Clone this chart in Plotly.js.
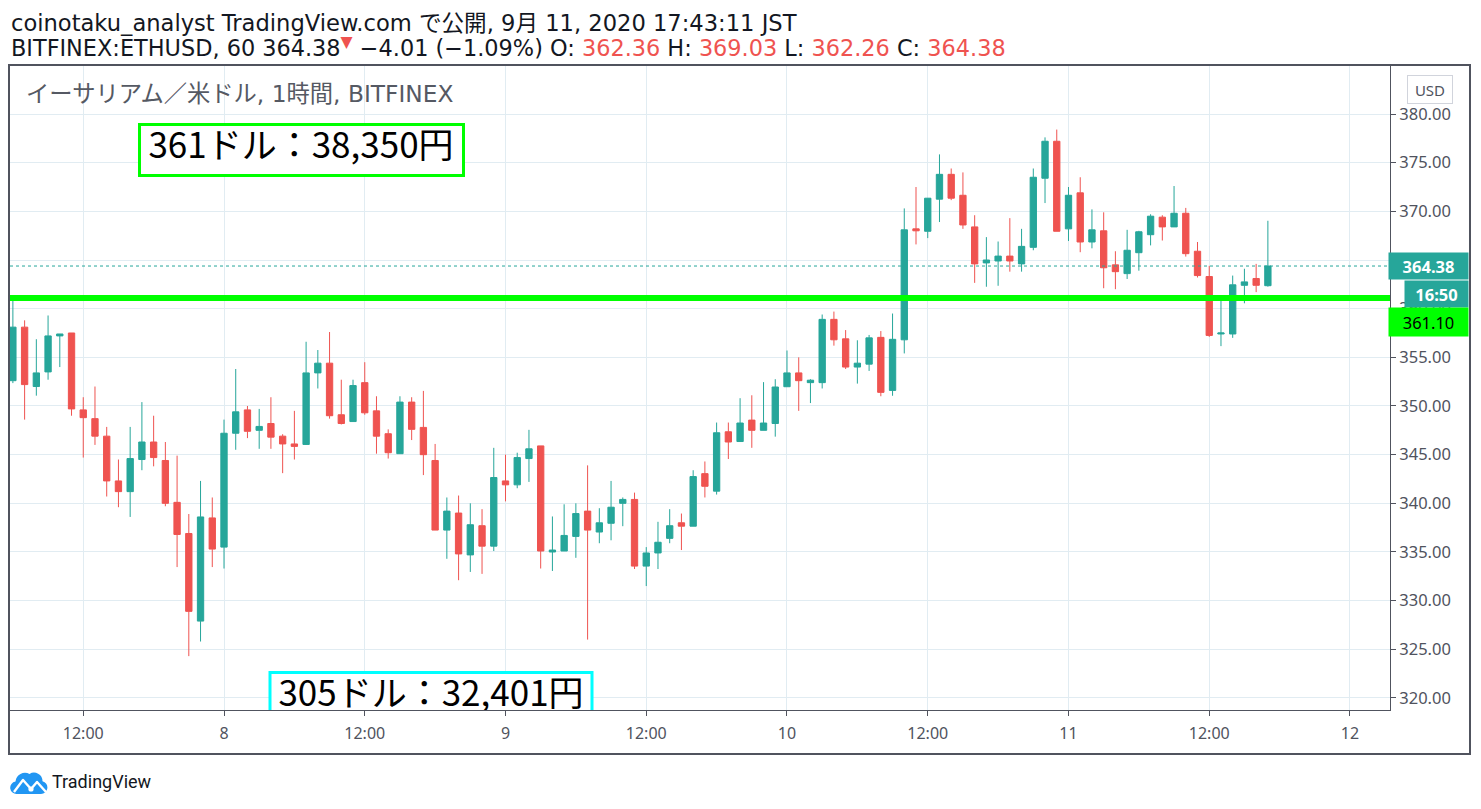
<!DOCTYPE html>
<html>
<head>
<meta charset="utf-8">
<script src="https://cdn.plot.ly/plotly-3.0.1.min.js"></script>
<style>
html,body{margin:0;padding:0;background:#fff;}
#wrap{position:relative;width:1481px;height:809px;overflow:hidden;}
#chart{width:1481px;height:809px;}
#logo{position:absolute;left:10px;top:767px;}
</style>
</head>
<body>
<div id="wrap">
<div id="chart"></div>
<svg id="logo" width="38" height="28" viewBox="0 0 38 28">
  <path d="M7 27 H31 A6.5 6.5 0 0 0 32.5 14.2 A8.5 8.5 0 0 0 19.5 7 A9.5 9.5 0 0 0 5.5 14.5 A6.3 6.3 0 0 0 7 27 Z" fill="#2196f3"/>
  <polyline points="4,25 13,13 21,22 27,15 36,25" fill="none" stroke="#fff" stroke-width="2.4" stroke-linejoin="round"/>
  <circle cx="21" cy="22" r="2.6" fill="#fff"/>
</svg>
</div>
<script>
// ---- data: hourly ETHUSD candles (Bitfinex), first candle 2020-09-07 06:00 JST
const firstCandle = [2020, 8, 7, 6]; // year, month index, day, hour
const openP = [
352.6,358.1,352.0,353.5,357.2,357.5,349.6,348.7,346.9,342.3,
341.2,344.5,346.3,344.4,340.1,336.9,327.9,338.5,335.5,347.2,
349.6,347.5,348.2,346.9,346.1,346.05,353.4,354.4,349.1,348.4,
352.4,349.5,347.15,345.1,350.4,347.8,344.4,337.25,339.0,334.7,
337.7,335.6,342.3,341.9,344.6,345.9,335.0,335.1,336.6,339.2,
337.05,337.95,340.0,340.4,333.55,334.9,336.4,338.0,337.65,343.05,
341.25,347.35,346.35,348.55,347.5,348.2,351.98,353.4,352.4,352.4,
358.9,356.9,354.0,354.3,357.05,351.6,356.8,368.2,367.95,371.25,
373.8,371.65,368.4,364.7,364.9,365.4,364.6,366.3,373.4,377.2,
368.2,371.9,366.85,368.0,364.5,363.6,365.75,367.6,369.4,368.4,
369.8,365.9,363.3,357.4,357.4,362.4,363.1,362.36
];
const highP = [
361.0,358.8,356.86,359.3,357.4,357.5,350.9,352.0,347.85,344.5,
347.85,350.4,349.0,346.3,344.9,338.9,342.3,340.6,348.6,353.8,
350.0,349.7,350.9,347.1,349.5,356.6,355.75,357.6,352.7,352.7,
354.5,351.0,347.6,351.0,350.9,351.55,346.1,340.6,340.8,340.0,
339.4,345.7,345.0,345.2,347.55,345.9,338.65,339.9,340.0,343.9,
339.5,342.3,340.6,341.1,335.5,338.1,339.4,338.95,343.4,344.3,
348.3,348.3,350.8,351.1,352.45,352.75,355.7,355.0,352.75,359.4,
359.7,357.8,356.75,357.3,357.7,359.5,370.3,372.5,371.35,375.85,
374.4,374.0,369.6,367.35,366.9,369.3,368.2,374.4,377.6,378.4,
372.5,373.5,370.2,369.9,365.9,368.1,368.0,369.7,369.6,372.6,
370.35,366.85,364.4,360.8,363.4,364.1,364.6,369.03
];
const lowP = [
352.35,348.6,351.06,352.7,354.0,349.0,344.7,346.0,340.7,339.6,
338.6,343.4,343.8,339.7,333.45,324.3,325.8,333.45,333.3,345.5,
346.7,345.6,345.6,343.1,344.5,346.0,351.8,348.7,348.1,348.4,
349.1,345.1,344.6,345.1,346.5,342.9,337.25,334.3,332.1,332.95,
332.75,335.1,340.2,341.55,342.2,333.3,333.05,335.1,334.4,326.0,
335.9,336.2,337.65,333.25,331.5,333.25,335.9,335.2,337.65,340.6,
340.9,344.55,346.35,345.7,347.5,346.85,351.98,349.5,350.3,351.8,
356.2,353.8,352.3,353.6,351.0,351.05,355.4,366.6,367.25,368.9,
371.15,368.2,362.65,362.25,362.35,363.8,363.8,366.0,370.85,367.95,
366.95,365.8,366.2,362.1,362.0,363.05,363.9,366.5,367.0,368.4,
365.35,363.2,357.1,356.15,357.0,360.55,361.7,362.26
];
const closeP = [
358.1,352.2,353.4,357.2,357.4,349.7,348.8,346.9,342.3,341.2,
344.6,346.3,344.7,340.0,336.8,328.9,338.6,335.3,347.2,349.4,
347.4,347.9,346.8,346.1,345.85,353.4,354.4,349.0,348.2,352.1,
349.3,346.9,345.2,350.4,347.6,345.0,337.25,339.2,334.8,337.8,
335.6,342.65,341.9,344.7,345.6,335.1,335.2,336.7,338.95,337.25,
338.0,339.6,340.4,333.55,334.9,336.0,337.7,337.65,342.75,341.75,
347.25,346.3,348.25,347.5,348.25,351.95,353.4,352.6,352.65,358.9,
356.8,354.0,354.4,357.0,351.4,356.85,368.1,368.0,371.35,373.8,
371.35,368.6,364.6,365.0,365.4,364.9,366.4,373.5,377.2,367.95,
371.65,366.85,368.1,364.2,363.8,366.0,367.9,369.5,368.4,369.8,
365.65,363.4,357.25,357.5,362.45,362.75,362.4,364.38
];
const xTickVals = ['2020-09-07 12:00','2020-09-08 00:00','2020-09-08 12:00','2020-09-09 00:00',
  '2020-09-09 12:00','2020-09-10 00:00','2020-09-10 12:00','2020-09-11 00:00','2020-09-11 12:00','2020-09-12 00:00'];
const xTickText = ['12:00','8','12:00','9','12:00','10','12:00','11','12:00','12'];
const lastPrice = 364.38;
const levelPrice = 361.10;
const countdown = '16:50';
const boxTexts = ['361ドル：38,350円', '305ドル：32,401円'];
const header1 = 'coinotaku_analyst TradingView.com で公開, 9月 11, 2020 17:43:11 JST';
const symbolText = 'BITFINEX:ETHUSD, 60';
const changeText = '−4.01 (−1.09%)';
const innerTitle = 'イーサリアム／米ドル, 1時間, BITFINEX';

// ---- helpers
function pad(n){return String(n).padStart(2,'0');}
function fmt(ms){const d=new Date(ms);return d.getUTCFullYear()+'-'+pad(d.getUTCMonth()+1)+'-'+pad(d.getUTCDate())+' '+pad(d.getUTCHours())+':'+pad(d.getUTCMinutes())+':'+pad(d.getUTCSeconds());}
const t0 = Date.UTC(firstCandle[0], firstCandle[1], firstCandle[2], firstCandle[3]);
const times = openP.map((_, i) => fmt(t0 + i * 3600e3));

// layout geometry (pixels)
const PL = 10, PR = 1390, PT = 66, PB = 710;
const refDay = Date.UTC(2020, 8, 8), refPx = 224, pxPerHour = 11.729;
function pxToDate(px){return fmt(refDay + (px - refPx) / pxPerHour * 3600e3);}
function pyToPrice(py){return 380 - (py - 114) / 9.733;}
function px(x){return (x - PL) / (PR - PL);}
function py(y){return (PB - y) / (PB - PT);}

const green = '#26a69a', red = '#ef5350', axisCol = '#50535e';

const candles = {
  type: 'candlestick', x: times, open: openP, high: highP, low: lowP, close: closeP,
  increasing: {line: {color: green, width: 1}, fillcolor: green},
  decreasing: {line: {color: red, width: 1}, fillcolor: red},
  whiskerwidth: 0, hoverinfo: 'skip', showlegend: false
};
const boxLabel = {
  type: 'scatter', mode: 'text',
  x: [pxToDate(301), pxToDate(431)],
  y: [pyToPrice(149), pyToPrice(697)],
  text: boxTexts, textposition: 'middle center', cliponaxis: true,
  textfont: {family: 'Liberation Sans Narrow, Noto Sans CJK JP, sans-serif', size: 35, color: '#000'},
  hoverinfo: 'skip', showlegend: false
};

const hfont = 'DejaVu Sans, Noto Sans CJK JP, sans-serif';
const afont = 'Noto Sans, Noto Sans CJK JP, sans-serif';
const sp = '<span style="color:' + red + '">';
const layout = {
  width: 1481, height: 809,
  margin: {l: PL, r: 1481 - PR, t: PT, b: 809 - PB, pad: 0},
  paper_bgcolor: '#fff', plot_bgcolor: '#fff',
  showlegend: false, boxgap: 0.23,
  xaxis: {
    type: 'date', range: [pxToDate(PL), pxToDate(PR)],
    tickmode: 'array', tickvals: xTickVals, ticktext: xTickText,
    showgrid: true, gridcolor: '#e1ecf2', gridwidth: 1, zeroline: false,
    ticks: 'outside', ticklen: 5, tickcolor: axisCol, tickwidth: 1,
    showline: true, linecolor: axisCol, linewidth: 1,
    ticklabelstandoff: 4,
    tickfont: {family: afont, size: 16, color: axisCol},
    rangeslider: {visible: false}, fixedrange: true
  },
  yaxis: {
    side: 'right', range: [pyToPrice(PB), pyToPrice(PT)],
    tick0: 0, dtick: 5, tickformat: '.2f',
    showgrid: true, gridcolor: '#e1ecf2', gridwidth: 1, zeroline: false,
    ticks: 'outside', ticklen: 5, tickcolor: axisCol, tickwidth: 1,
    showline: true, linecolor: axisCol, linewidth: 1,
    tickfont: {family: afont, size: 16.5, color: axisCol},
    fixedrange: true
  },
  shapes: [
    {type: 'rect', xref: 'x', yref: 'y', x0: pxToDate(139.5), x1: pxToDate(463.5), y0: pyToPrice(175.5), y1: pyToPrice(124.5),
     fillcolor: '#fff', line: {color: '#00ff00', width: 3}, layer: 'between'},
    {type: 'rect', xref: 'x', yref: 'y', x0: pxToDate(270), x1: pxToDate(592), y0: pyToPrice(760), y1: pyToPrice(672.5),
     fillcolor: '#fff', line: {color: '#00ffff', width: 3}, layer: 'between'},
    {type: 'line', xref: 'paper', yref: 'y', x0: 0, x1: 1, y0: lastPrice, y1: lastPrice,
     line: {color: green, width: 1, dash: 'dot'}},
    {type: 'line', xref: 'paper', yref: 'y', x0: 0, x1: 1, y0: levelPrice, y1: levelPrice,
     line: {color: '#00ff00', width: 6}},
    {type: 'rect', xref: 'paper', yref: 'paper', x0: px(9), x1: px(1470), y0: py(754), y1: py(65),
     line: {color: axisCol, width: 2}, fillcolor: 'rgba(0,0,0,0)'}
  ],
  annotations: [
    {xref: 'paper', yref: 'paper', x: px(9), y: py(23), xanchor: 'left', yanchor: 'middle', showarrow: false,
     text: header1, font: {family: hfont, size: 22.6, color: '#131722'}},
    {xref: 'paper', yref: 'paper', x: px(9), y: py(46), xanchor: 'left', yanchor: 'middle', showarrow: false,
     text: symbolText + ' ' + lastPrice.toFixed(2) + sp + '<sup>▼</sup></span> ' + changeText +
       ' O: ' + sp + openP[openP.length-1].toFixed(2) + '</span>' +
       ' H: ' + sp + highP[highP.length-1].toFixed(2) + '</span>' +
       ' L: ' + sp + lowP[lowP.length-1].toFixed(2) + '</span>' +
       ' C: ' + sp + closeP[closeP.length-1].toFixed(2) + '</span>',
     font: {family: hfont, size: 22.4, color: '#131722'}},
    {xref: 'paper', yref: 'paper', x: px(24), y: py(93), xanchor: 'left', yanchor: 'middle', showarrow: false,
     text: innerTitle, font: {family: hfont, size: 23.3, color: '#555963'}},
    {xref: 'paper', yref: 'paper', x: px(1430), y: py(89.5), xanchor: 'center', yanchor: 'middle', showarrow: false,
     text: 'USD', width: 40, height: 23, bordercolor: '#d1d4dc', borderwidth: 1, borderpad: 2, bgcolor: '#fff',
     font: {family: afont, size: 15, color: axisCol}},
    {xref: 'paper', yref: 'y', x: px(1428.5), y: lastPrice, xanchor: 'center', yanchor: 'middle', showarrow: false,
     text: '<b>' + lastPrice.toFixed(2) + '</b>', width: 79, height: 26, borderpad: 0, bgcolor: green,
     font: {family: afont, size: 16.5, color: '#fff'}},
    {xref: 'paper', yref: 'paper', x: px(1436.5), y: py(294), xanchor: 'center', yanchor: 'middle', showarrow: false,
     text: '<b>' + countdown + '</b>', width: 63, height: 26, borderpad: 0, bgcolor: green,
     font: {family: afont, size: 16.5, color: '#fff'}},
    {xref: 'paper', yref: 'paper', x: px(1428.5), y: py(322), xanchor: 'center', yanchor: 'middle', showarrow: false,
     text: levelPrice.toFixed(2), width: 79, height: 28, borderpad: 0, bgcolor: '#00ff00',
     font: {family: afont, size: 16.5, color: '#000'}},
    {xref: 'paper', yref: 'paper', x: px(50), y: py(781), xanchor: 'left', yanchor: 'middle', showarrow: false,
     text: 'TradingView', font: {family: 'Roboto, sans-serif', size: 18, color: '#131722'}}
  ]
};

Plotly.newPlot('chart', [candles, boxLabel], layout, {staticPlot: true, displayModeBar: false});
</script>
</body>
</html>
